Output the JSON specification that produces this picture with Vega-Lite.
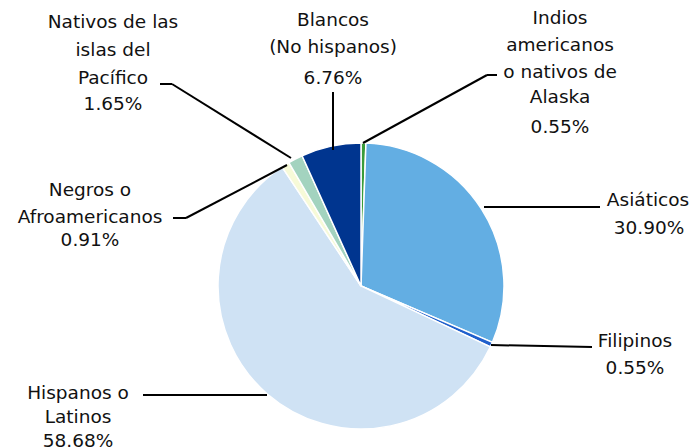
{
  "$schema": "https://vega.github.io/schema/vega-lite/v6.json",
  "width": 670,
  "height": 324,
  "padding": {"left": 26, "top": 124, "right": 0, "bottom": 0},
  "autosize": {"type": "none"},
  "background": "white",
  "config": {"view": {"stroke": null}},
  "layer": [
    {
      "data": {"values": [
        {"cat": "Indios americanos o nativos de Alaska", "value": 0.55, "ord": 1},
        {"cat": "Asiáticos", "value": 30.90, "ord": 2},
        {"cat": "Filipinos", "value": 0.55, "ord": 3},
        {"cat": "Hispanos o Latinos", "value": 58.68, "ord": 4},
        {"cat": "Negros o Afroamericanos", "value": 0.91, "ord": 5},
        {"cat": "Nativos de las islas del Pacífico", "value": 1.65, "ord": 6},
        {"cat": "Blancos (No hispanos)", "value": 6.76, "ord": 7}
      ]},
      "mark": {"type": "arc", "outerRadius": 143, "stroke": "white", "strokeWidth": 1.5},
      "encoding": {
        "theta": {"field": "value", "type": "quantitative", "stack": true},
        "order": {"field": "ord", "type": "quantitative"},
        "color": {
          "field": "cat", "type": "nominal", "legend": null,
          "scale": {
            "domain": ["Indios americanos o nativos de Alaska", "Asiáticos", "Filipinos", "Hispanos o Latinos", "Negros o Afroamericanos", "Nativos de las islas del Pacífico", "Blancos (No hispanos)"],
            "range": ["#3a9c3a", "#63aee3", "#1f5fcc", "#cfe2f4", "#f7fad8", "#a3d3bf", "#00358f"]
          }
        }
      }
    },
    {
      "data": {"values": [
        {"x1": -28, "y1": 194, "x2": -28, "y2": 136},
        {"x1": 2, "y1": 143, "x2": 126, "y2": 211},
        {"x1": 126, "y1": 211, "x2": 136, "y2": 211},
        {"x1": -201, "y1": 202, "x2": -189, "y2": 202},
        {"x1": -189, "y1": 202, "x2": -70, "y2": 128},
        {"x1": -188, "y1": 68, "x2": -175, "y2": 68},
        {"x1": -175, "y1": 68, "x2": -74, "y2": 121},
        {"x1": 123, "y1": 79, "x2": 239, "y2": 79},
        {"x1": 130, "y1": -59, "x2": 231, "y2": -61},
        {"x1": -218, "y1": -109, "x2": -94, "y2": -109}
      ]},
      "mark": {"type": "rule", "strokeWidth": 2, "color": "black"},
      "encoding": {
        "x": {"field": "x1", "type": "quantitative", "scale": {"domain": [-335, 335], "nice": false, "zero": false}, "axis": null},
        "y": {"field": "y1", "type": "quantitative", "scale": {"domain": [-162, 162], "nice": false, "zero": false}, "axis": null},
        "x2": {"field": "x2"},
        "y2": {"field": "y2"}
      }
    },
    {
      "data": {"values": [
        {"t": "Nativos de las", "x": -248, "y": 264},
        {"t": "islas del", "x": -248, "y": 236},
        {"t": "Pacífico", "x": -248, "y": 208},
        {"t": "1.65%", "x": -248, "y": 182},
        {"t": "Blancos", "x": -28, "y": 266},
        {"t": "(No hispanos)", "x": -28, "y": 239},
        {"t": "6.76%", "x": -28, "y": 208},
        {"t": "Indios", "x": 199, "y": 268},
        {"t": "americanos", "x": 199, "y": 241},
        {"t": "o nativos de", "x": 199, "y": 214},
        {"t": "Alaska", "x": 199, "y": 189},
        {"t": "0.55%", "x": 199, "y": 159},
        {"t": "Negros o", "x": -271, "y": 96},
        {"t": "Afroamericanos", "x": -271, "y": 69},
        {"t": "0.91%", "x": -271, "y": 46},
        {"t": "Asiáticos", "x": 287, "y": 86},
        {"t": "30.90%", "x": 288, "y": 58},
        {"t": "Filipinos", "x": 274, "y": -55},
        {"t": "0.55%", "x": 274, "y": -82},
        {"t": "Hispanos o", "x": -283, "y": -107},
        {"t": "Latinos", "x": -283, "y": -131},
        {"t": "58.68%", "x": -283, "y": -155}
      ]},
      "mark": {"type": "text", "font": "DejaVu Sans", "fontSize": 18.5, "baseline": "middle", "align": "center", "color": "#111111"},
      "encoding": {
        "x": {"field": "x", "type": "quantitative"},
        "y": {"field": "y", "type": "quantitative"},
        "text": {"field": "t", "type": "nominal"}
      }
    }
  ]
}
